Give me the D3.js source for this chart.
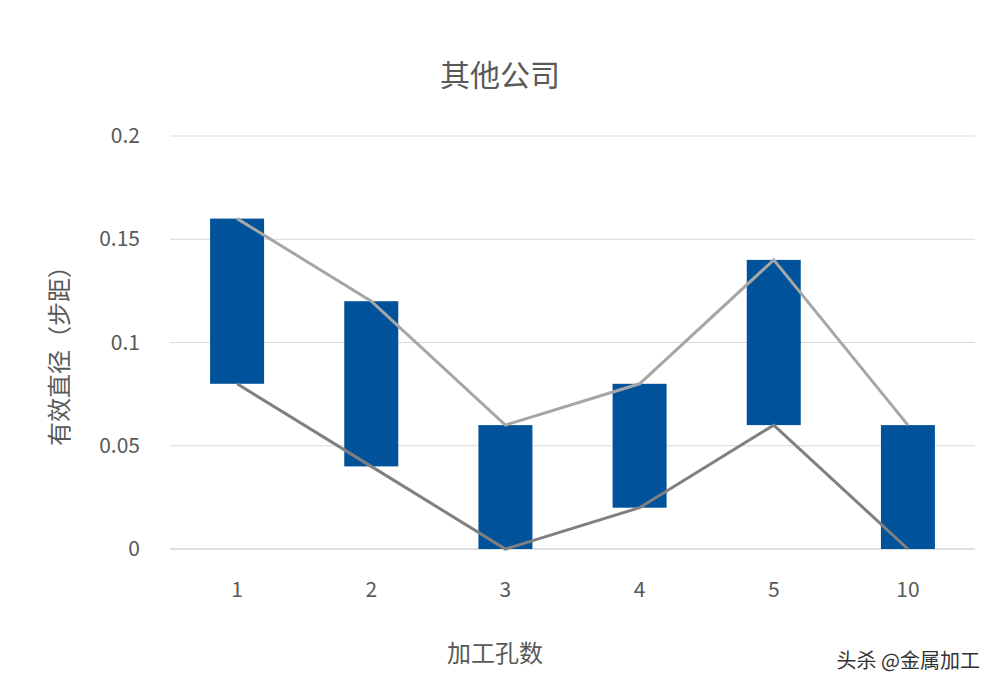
<!DOCTYPE html>
<html><head><meta charset="utf-8">
<script src="https://cdn.jsdelivr.net/npm/d3@7/dist/d3.min.js"></script>
<style>body{margin:0;background:#fff}text{font-family:"Noto Sans CJK SC","Noto Sans",sans-serif}</style>
</head><body><svg id="c" width="1000" height="692"></svg>
<script>
const categories=["1","2","3","4","5","10"];
const highValues=[0.16,0.12,0.06,0.08,0.14,0.06];
const lowValues=[0.08,0.04,0,0.02,0.06,0];
const yTicks=[0,0.05,0.1,0.15,0.2];
const yTickLabels=["0","0.05","0.1","0.15","0.2"];
const svg=d3.select("#c");
const xc=d3.scalePoint().domain(categories).range([170,975]).padding(0.5);
const y=d3.scaleLinear().domain([0,0.2]).range([549,136]);
svg.append("g").selectAll("line").data(yTicks).join("line")
 .attr("x1",170).attr("x2",975).attr("y1",d=>y(d)).attr("y2",d=>y(d))
 .attr("stroke",d=>d===0?"#bfbfbf":"#d9d9d9").attr("stroke-width",1);
svg.append("g").selectAll("text").data(yTicks).join("text")
 .attr("x",140).attr("y",d=>y(d)+7).attr("text-anchor","end").attr("font-size",21).attr("fill","#595959")
 .text((d,i)=>yTickLabels[i]);
svg.append("g").selectAll("text").data(categories).join("text")
 .attr("x",d=>xc(d)).attr("y",597).attr("text-anchor","middle").attr("font-size",21).attr("fill","#595959").text(d=>d);
const bw=54;
svg.append("g").selectAll("rect").data(categories).join("rect")
 .attr("x",d=>xc(d)-bw/2).attr("width",bw)
 .attr("y",(d,i)=>y(highValues[i])).attr("height",(d,i)=>y(lowValues[i])-y(highValues[i]))
 .attr("fill","#00539b");
const line=d3.line().x(d=>xc(d[0])).y(d=>y(d[1]));
svg.append("path").attr("d",line(categories.map((c,i)=>[c,highValues[i]])))
 .attr("fill","none").attr("stroke","#a6a6a6").attr("stroke-width",3);
svg.append("path").attr("d",line(categories.map((c,i)=>[c,lowValues[i]])))
 .attr("fill","none").attr("stroke","#808080").attr("stroke-width",3);
svg.append("text").attr("x",500).attr("y",86).attr("text-anchor","middle").attr("font-size",30).attr("fill","#595959").text("其他公司");
svg.append("text").attr("transform","translate(68,350) rotate(-90)").attr("text-anchor","middle").attr("font-size",24).attr("fill","#595959").text("有效直径（步距）");
svg.append("text").attr("x",495).attr("y",662).attr("text-anchor","middle").attr("font-size",24).attr("fill","#595959").text("加工孔数");
svg.append("text").attr("x",980).attr("y",668).attr("text-anchor","end").attr("font-size",20).attr("fill","#333").text("头杀 @金属加工");
</script></body></html>
